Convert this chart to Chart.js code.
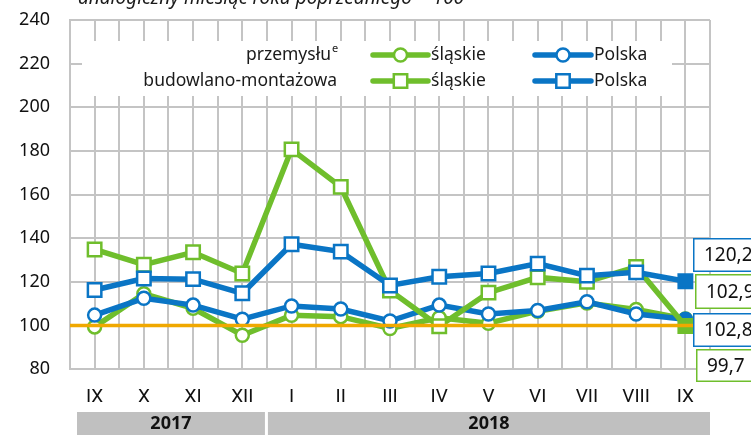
<!DOCTYPE html>
<html>
<head>
<meta charset="utf-8">
<script src="https://cdn.jsdelivr.net/npm/chart.js@4"></script>
<style>
  html, body { margin: 0; padding: 0; background: #fff; }
  #wrap { width: 751px; height: 435px; }
</style>
</head>
<body>
<div id="wrap"><canvas id="c" width="751" height="435"></canvas></div>
<script>
const months = ['IX', 'X', 'XI', 'XII', 'I', 'II', 'III', 'IV', 'V', 'VI', 'VII', 'VIII', 'IX'];
const years = ['2017', '2018'];
const yearSpans = [4, 9];

// przemysłu
const przemyslSlaskie = [99.3, 114.5, 107.8, 95.5, 104.6, 104.0, 98.6, 103.5, 101.0, 106.5, 110.3, 107.3, 102.9];
const przemyslPolska = [104.7, 112.4, 109.3, 102.8, 108.9, 107.5, 102.0, 109.3, 105.2, 106.8, 110.8, 105.2, 102.8];
// budowlano-montażowa
const budowlSlaskie = [134.8, 127.8, 133.5, 123.8, 180.7, 163.5, 116.0, 99.6, 115.0, 122.0, 120.0, 126.8, 99.7];
const budowlPolska = [116.2, 121.5, 121.2, 114.7, 137.2, 133.8, 118.3, 122.3, 123.8, 128.3, 122.8, 124.3, 120.2];

const baseline = 100;
const yTicks = { min: 80, max: 240, step: 20 };

const GREEN = '#6fbe2c';
const BLUE = '#0a75c5';
const ORANGE = '#f0a800';
const GRID = '#c4c4c4';
const FONT = "'Noto Sans', 'DejaVu Sans', sans-serif";
const NARROW = "'Liberation Sans Narrow', 'Roboto', sans-serif";

const toXY = (arr) => arr.map((v, i) => ({ x: i, y: v }));
const lastFilled = (arr, color) => arr.map((v, i) => (i === arr.length - 1 ? color : '#fff'));

function series(data, color, style, order) {
  return {
    data: toXY(data),
    borderColor: color,
    borderWidth: 5.5,
    pointStyle: style,
    pointRadius: style === 'rect' ? 9.5 : 6.5,
    pointBorderWidth: 2.5,
    pointBorderColor: color,
    pointBackgroundColor: lastFilled(data, color),
    order,
  };
}

const fmt = (v) => v.toFixed(1).replace('.', ',');

const decorations = {
  id: 'decorations',
  beforeDatasetsDraw(chart) {
    const ctx = chart.ctx;
    ctx.save();
    // white legend panel over the grid
    ctx.fillStyle = '#fff';
    ctx.fillRect(82, 41, 590, 55);
    const rows = [
      { label: 'przemysłu', sup: 'e', style: 'circle', y: 55 },
      { label: 'budowlano-montażowa', sup: '', style: 'rect', y: 81 },
    ];
    const cols = [
      { name: 'śląskie', color: GREEN, x0: 373, x1: 428 },
      { name: 'Polska', color: BLUE, x0: 535, x1: 591 },
    ];
    ctx.font = '17.5px ' + FONT;
    ctx.textBaseline = 'middle';
    rows.forEach((r) => {
      ctx.fillStyle = '#1a1a1a';
      ctx.textAlign = 'right';
      if (r.sup) {
        ctx.fillText(r.label, 331, r.y);
        ctx.font = '11px ' + FONT;
        ctx.textAlign = 'left';
        ctx.fillText(r.sup, 332, r.y - 6);
        ctx.font = '17.5px ' + FONT;
      } else {
        ctx.fillText(r.label, 337, r.y);
      }
      cols.forEach((c) => {
        ctx.strokeStyle = c.color;
        ctx.lineWidth = 5.5;
        ctx.lineCap = 'round';
        ctx.beginPath();
        ctx.moveTo(c.x0, r.y);
        ctx.lineTo(c.x1, r.y);
        ctx.stroke();
        const mx = (c.x0 + c.x1) / 2;
        ctx.fillStyle = '#fff';
        ctx.lineWidth = 2.5;
        ctx.beginPath();
        if (r.style === 'circle') ctx.arc(mx, r.y, 6.5, 0, Math.PI * 2);
        else ctx.rect(mx - 6.7, r.y - 6.7, 13.4, 13.4);
        ctx.fill();
        ctx.stroke();
        ctx.fillStyle = '#1a1a1a';
        ctx.textAlign = 'left';
        ctx.fillText(c.name, c.x1 + 3, r.y);
      });
    });
    ctx.restore();
  },
  afterDraw(chart) {
    const ctx = chart.ctx;
    const xs = chart.scales.x;
    ctx.save();
    // heading, cut off at the top edge
    ctx.fillStyle = '#1a1a1a';
    ctx.font = 'italic 19px ' + FONT;
    ctx.textAlign = 'left';
    ctx.textBaseline = 'alphabetic';
    ctx.fillText('analogiczny miesiąc roku poprzedniego = 100', 78, 4);

    // year bars under the month labels
    let start = -0.5;
    years.forEach((y, i) => {
      const end = start + yearSpans[i];
      const left = xs.getPixelForValue(start) + (i === 0 ? 7 : 1);
      const right = xs.getPixelForValue(end) - (i === 0 ? 2 : 0);
      ctx.fillStyle = '#c0c0c0';
      ctx.fillRect(left, 412, right - left, 23);
      ctx.fillStyle = '#111';
      ctx.font = 'bold 18px ' + FONT;
      ctx.textAlign = 'center';
      ctx.textBaseline = 'middle';
      ctx.fillText(y, (left + right) / 2, 424);
      start = end;
    });

    // last-value boxes on the right
    const boxes = [
      { v: budowlPolska.at(-1), color: BLUE, x: 693, y: 238, h: 34 },
      { v: przemyslSlaskie.at(-1), color: GREEN, x: 695, y: 274, h: 35 },
      { v: przemyslPolska.at(-1), color: BLUE, x: 693, y: 313, h: 34 },
      { v: budowlSlaskie.at(-1), color: GREEN, x: 696, y: 349, h: 33 },
    ];
    ctx.font = '19px ' + FONT;
    ctx.textAlign = 'left';
    ctx.textBaseline = 'middle';
    boxes.forEach((b) => {
      ctx.fillStyle = '#fff';
      ctx.fillRect(b.x, b.y, 80, b.h);
      ctx.strokeStyle = b.color;
      ctx.lineWidth = 1.5;
      ctx.strokeRect(b.x + 0.75, b.y + 0.75, 80, b.h - 1.5);
      ctx.fillStyle = '#111';
      ctx.fillText(fmt(b.v), b.x + 11, b.y + b.h / 2 + 1);
    });
    ctx.restore();
  },
};

new Chart(document.getElementById('c'), {
  type: 'line',
  data: {
    datasets: [
      {
        data: [{ x: -0.5, y: baseline }, { x: months.length - 0.5, y: baseline }],
        borderColor: ORANGE,
        borderWidth: 3.5,
        pointRadius: 0,
        order: 0,
      },
      series(budowlPolska, BLUE, 'rect', 1),
      series(budowlSlaskie, GREEN, 'rect', 2),
      series(przemyslPolska, BLUE, 'circle', 3),
      series(przemyslSlaskie, GREEN, 'circle', 4),
    ],
  },
  options: {
    responsive: false,
    animation: false,
    layout: { padding: { top: 20, right: 41, left: 0, bottom: 0 } },
    plugins: { legend: { display: false }, tooltip: { enabled: false } },
    scales: {
      x: {
        type: 'linear',
        min: -0.5,
        max: months.length - 0.5,
        afterFit: (s) => { s.height = 66; s.paddingLeft = 0; s.paddingRight = 0; },
        grid: { color: GRID, lineWidth: 2, drawTicks: false },
        border: { color: GRID, width: 2 },
        ticks: {
          stepSize: 0.5,
          autoSkip: false,
          maxRotation: 0,
          padding: 17,
          color: '#111',
          font: { family: NARROW, size: 19 },
          callback: (v) => (Number.isInteger(v) ? months[v] : ''),
        },
      },
      y: {
        min: yTicks.min,
        max: yTicks.max,
        afterFit: (s) => { s.width = 70; s.paddingTop = 0; s.paddingBottom = 0; },
        grid: { color: GRID, lineWidth: 2, drawTicks: false },
        border: { color: GRID, width: 2 },
        ticks: {
          stepSize: yTicks.step,
          padding: 20,
          color: '#111',
          font: { family: FONT, size: 18 },
        },
      },
    },
  },
  plugins: [decorations],
});
</script>
</body>
</html>
